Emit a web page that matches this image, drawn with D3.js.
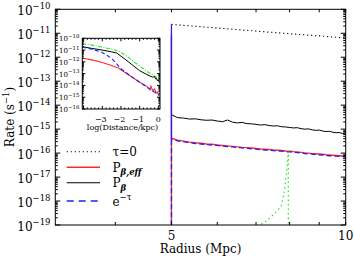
<!DOCTYPE html>
<html>
<head>
<meta charset="utf-8">
<script src="https://cdn.jsdelivr.net/npm/d3@7"></script>
<style>
body { margin: 0; background: #fff; }
text { font-family: "DejaVu Serif", serif; fill: #000; }
</style>
</head>
<body>
<svg id="chart" width="354" height="256"></svg>
<script>
// main panel data: log10 of rate (s^-1) against radius (Mpc)
var radius = [5.000, 5.125, 5.250, 5.375, 5.500, 5.625, 5.750, 5.875, 6.000, 6.125,
    6.250, 6.375, 6.500, 6.625, 6.750, 6.875, 7.000, 7.125, 7.250, 7.375,
    7.500, 7.625, 7.750, 7.875, 8.000, 8.125, 8.250, 8.375, 8.500, 8.625,
    8.750, 8.875, 9.000, 9.125, 9.250, 9.375, 9.500, 9.625, 9.750, 9.875, 10.000];
var pBetaLog = [-14.40, -14.52, -14.54, -14.58, -14.57, -14.61, -14.63, -14.62, -14.66, -14.69,
    -14.62, -14.71, -14.74, -14.72, -14.77, -14.78, -14.80, -14.83, -14.81, -14.85,
    -14.87, -14.86, -14.90, -14.91, -14.93, -14.95, -14.94, -14.98, -15.00, -14.99,
    -15.03, -15.05, -15.04, -15.08, -15.10, -15.09, -15.13, -15.15, -15.14, -15.18, -15.20];
var pEffLog = [-15.38, -15.46, -15.50, -15.54, -15.57, -15.59, -15.62, -15.63, -15.66, -15.68,
    -15.70, -15.72, -15.74, -15.76, -15.77, -15.79, -15.81, -15.83, -15.84, -15.85,
    -15.87, -15.88, -15.89, -15.91, -15.92, -15.94, -15.95, -15.97, -15.99, -16.00,
    -16.02, -16.03, -16.04, -16.05, -16.07, -16.08, -16.09, -16.10, -16.11, -16.12, -16.13];
var expTauLog = [-15.42, -15.49, -15.53, -15.56, -15.60, -15.62, -15.64, -15.67, -15.68, -15.71,
    -15.73, -15.74, -15.77, -15.78, -15.80, -15.82, -15.83, -15.86, -15.87, -15.88,
    -15.90, -15.91, -15.92, -15.94, -15.95, -15.97, -15.98, -15.99, -16.02, -16.03,
    -16.04, -16.06, -16.07, -16.08, -16.10, -16.11, -16.12, -16.13, -16.14, -16.15, -16.16];
// first bin at 5 Mpc rises from zero to a peak
var peakLog = { pEff: -11.1, pBeta: -11.0, expTau: -10.62 };
var tau0Radius = [5, 6, 7, 8, 9, 10];
var tau0Log = [-10.63, -10.78, -10.91, -11.02, -11.11, -11.20];
var greenRadius = [7.05, 7.11, 7.29, 7.49, 7.64, 7.75, 7.85, 7.90, 7.93, 7.96, 7.96];
var greenLog = [-19.3, -19.0, -18.83, -18.58, -18.38, -18.17, -17.46, -16.83, -16.42, -15.93, -20];

// inset: log10 rate against log10(distance/kpc)
var insGreenX = [-4.07, -3.5, -3.0, -2.5, -2.1, -1.7, -1.34, -1.0, -0.62, -0.3, 0.0, 0.07];
var insGreenY = [-10.45, -10.6, -10.75, -10.92, -11.1, -11.5, -11.95, -12.35, -12.8, -13.1, -13.4, -13.5];
var insBlackX = [-4.07, -3.5, -3.0, -2.5, -2.23, -1.8, -1.4, -1.0, -0.7, -0.45, -0.3, -0.2, -0.15, -0.1, -0.05, 0.0, 0.05];
var insBlackY = [-10.72, -10.87, -11.0, -11.15, -11.25, -11.75, -12.25, -12.75, -13.0, -13.2, -13.3, -13.25, -13.45, -13.38, -13.6, -13.52, -13.68];
var insRedX = [-4.07, -3.5, -3.0, -2.5, -2.14, -1.5, -1.0, -0.6, -0.45, -0.4, -0.3, -0.2, -0.12, -0.05, 0.0, 0.05];
var insRedY = [-11.67, -11.85, -12.05, -12.3, -12.52, -13.2, -13.73, -14.1, -14.35, -14.05, -14.45, -14.3, -14.65, -14.55, -14.8, -14.85];
var insBlueX = [-4.07, -3.5, -3.0, -2.5, -2.1, -1.95, -1.5, -1.0, -0.5, 0.0, 0.05];
var insBlueY = [-10.75, -10.95, -11.2, -11.7, -12.4, -12.65, -13.18, -13.72, -14.26, -14.78, -14.83];

// ticks and labels
var yTickExp = [-10, -11, -12, -13, -14, -15, -16, -17, -18, -19];
var xTickValues = [4, 5, 6, 7, 8, 9, 10];
var xTickLabels = [5, 10];
var insXTicks = [-4, -3, -2, -1, 0];
var insXLabels = [-3, -2, -1, 0];
var insYTickExp = [-10, -11, -12, -13, -14, -15, -16];
var legendNames = ['τ=0', 'P', 'P', 'e'];
var legendSub = ['', 'β,eff', 'β', ''];
var legendSup = ['', '', '', '−τ'];

var red = '#ff2b2b', blue = '#2020ff', green = '#33e633';

var svg = d3.select('#chart');
var mLeft = 55.3, mRight = 345.7, mTop = 9.3, mBottom = 225;

var x = d3.scaleLog().domain([3.15, 10]).range([mLeft, mRight]);
var y = d3.scaleLog().domain([1e-19, 1e-10]).range([mBottom, mTop]);
function p10(v) { return Math.pow(10, v); }

var defs = svg.append('defs');
defs.append('clipPath').attr('id', 'clipMain')
    .append('rect').attr('x', mLeft).attr('y', mTop).attr('width', mRight - mLeft).attr('height', mBottom - mTop);

var line = d3.line().x(function (d) { return x(d[0]); }).y(function (d) { return y(p10(d[1])); });

function withSpike(peak, vals) {
    return [[5, -20], [5, peak]].concat(radius.map(function (r, i) { return [r, vals[i]]; }));
}

var plot = svg.append('g').attr('clip-path', 'url(#clipMain)');
plot.append('path').attr('d', line(tau0Radius.map(function (r, i) { return [r, tau0Log[i]]; })))
    .attr('fill', 'none').attr('stroke', '#000').attr('stroke-width', 1.1).attr('stroke-dasharray', '1.2,2.8');
plot.append('path').attr('d', line(withSpike(peakLog.pBeta, pBetaLog)))
    .attr('fill', 'none').attr('stroke', '#000').attr('stroke-width', 1);
plot.append('path').attr('d', line(withSpike(peakLog.pEff, pEffLog)))
    .attr('fill', 'none').attr('stroke', red).attr('stroke-width', 1.4);
plot.append('path').attr('d', line(withSpike(peakLog.expTau, expTauLog)))
    .attr('fill', 'none').attr('stroke', blue).attr('stroke-width', 1.3).attr('stroke-dasharray', '5,3');
plot.append('path').attr('d', line(greenRadius.map(function (r, i) { return [r, greenLog[i]]; })))
    .attr('fill', 'none').attr('stroke', green).attr('stroke-width', 1.3).attr('stroke-dasharray', '1.5,3');

// frame and ticks
var axes = svg.append('g').attr('stroke', '#000').attr('stroke-width', 1);
axes.append('rect').attr('x', mLeft).attr('y', mTop).attr('width', mRight - mLeft).attr('height', mBottom - mTop).attr('fill', 'none');

yTickExp.forEach(function (e) {
    var yy = y(p10(e));
    axes.append('line').attr('x1', mLeft).attr('x2', mLeft + 5).attr('y1', yy).attr('y2', yy);
    axes.append('line').attr('x1', mRight).attr('x2', mRight - 5).attr('y1', yy).attr('y2', yy);
    if (e === -10) return;
    for (var k = 2; k <= 9; k++) {
        var ym = y(k * p10(e));
        axes.append('line').attr('x1', mLeft).attr('x2', mLeft + 2.5).attr('y1', ym).attr('y2', ym);
        axes.append('line').attr('x1', mRight).attr('x2', mRight - 2.5).attr('y1', ym).attr('y2', ym);
    }
});
xTickValues.forEach(function (v) {
    var xx = x(v);
    axes.append('line').attr('x1', xx).attr('x2', xx).attr('y1', mBottom).attr('y2', mBottom - 3);
    axes.append('line').attr('x1', xx).attr('x2', xx).attr('y1', mTop).attr('y2', mTop + 3);
});

// y tick labels
yTickExp.forEach(function (e) {
    var t = svg.append('text').attr('x', 50.5).attr('y', y(p10(e)) + 5.5).attr('text-anchor', 'end');
    t.append('tspan').text('10').style('font-size', '12px');
    t.append('tspan').text('−' + Math.abs(e)).attr('dy', -5.5).style('font-size', '8.5px');
});
xTickLabels.forEach(function (v) {
    svg.append('text').attr('x', x(v)).attr('y', 239.5).attr('text-anchor', 'middle')
        .style('font-size', '12px').text(v);
});
svg.append('text').attr('x', (mLeft + mRight) / 2).attr('y', 252.5).attr('text-anchor', 'middle')
    .style('font-size', '12px').text('Radius (Mpc)');
var yt = svg.append('text').attr('transform', 'translate(14,117) rotate(-90)').attr('text-anchor', 'middle')
    .style('font-size', '12px');
yt.append('tspan').text('Rate (s');
yt.append('tspan').text('−1').attr('dy', -5).style('font-size', '8.5px');
yt.append('tspan').text(')').attr('dy', 5);

// legend
var legY = [151.7, 167.3, 182.7, 201];
var legStyle = [
    { c: '#000', w: 1.1, dash: '1.2,2.8' },
    { c: red, w: 1.4, dash: null },
    { c: '#000', w: 1.1, dash: null },
    { c: blue, w: 1.3, dash: '7,5' }
];
legendNames.forEach(function (name, i) {
    svg.append('line').attr('x1', 66.7).attr('x2', 100).attr('y1', legY[i]).attr('y2', legY[i])
        .attr('stroke', legStyle[i].c).attr('stroke-width', legStyle[i].w)
        .attr('stroke-dasharray', legStyle[i].dash);
    var t = svg.append('text').attr('x', 112.5).attr('y', legY[i] + 4.5).style('font-size', '12px');
    t.append('tspan').text(name);
    if (legendSub[i]) t.append('tspan').text(legendSub[i]).attr('dy', 3.5)
        .style('font-size', '8.5px').style('font-style', 'italic').style('font-weight', 'bold');
    if (legendSup[i]) t.append('tspan').text(legendSup[i]).attr('dy', -6).style('font-size', '8.5px');
});

// inset
var iL = 82.3, iR = 160, iT = 38.3, iB = 109;
var ix = d3.scaleLinear().domain([-4.07, 0.09]).range([iL, iR]);
var iy = d3.scaleLog().domain([1e-16, 1e-10]).range([iB, iT]);
defs.append('clipPath').attr('id', 'clipInset')
    .append('rect').attr('x', iL).attr('y', iT).attr('width', iR - iL).attr('height', iB - iT);
var inset = svg.append('g');
inset.append('rect').attr('x', iL).attr('y', iT).attr('width', iR - iL).attr('height', iB - iT).attr('fill', '#fff');
var iline = d3.line().x(function (d) { return ix(d[0]); }).y(function (d) { return iy(p10(d[1])); });
function pairs(xs, ys) { return xs.map(function (v, i) { return [v, ys[i]]; }); }
var ip = inset.append('g').attr('clip-path', 'url(#clipInset)');
ip.append('path').attr('d', iline(pairs(insGreenX, insGreenY))).attr('fill', 'none')
    .attr('stroke', green).attr('stroke-width', 1.1).attr('stroke-dasharray', '4,1.5,1,1.5');
ip.append('path').attr('d', iline(pairs(insBlackX, insBlackY))).attr('fill', 'none')
    .attr('stroke', '#000').attr('stroke-width', 1);
ip.append('path').attr('d', iline(pairs(insRedX, insRedY))).attr('fill', 'none')
    .attr('stroke', red).attr('stroke-width', 1.1);
ip.append('path').attr('d', iline(pairs(insBlueX, insBlueY))).attr('fill', 'none')
    .attr('stroke', blue).attr('stroke-width', 1.1).attr('stroke-dasharray', '4,2.5');

var iaxes = inset.append('g').attr('stroke', '#000').attr('stroke-width', 1);
iaxes.append('rect').attr('x', iL).attr('y', iT).attr('width', iR - iL).attr('height', iB - iT).attr('fill', 'none');
insYTickExp.forEach(function (e) {
    var yy = iy(p10(e));
    iaxes.append('line').attr('x1', iL).attr('x2', iL + 3).attr('y1', yy).attr('y2', yy);
    iaxes.append('line').attr('x1', iR).attr('x2', iR - 3).attr('y1', yy).attr('y2', yy);
    if (e > -16) {
        for (var k = 2; k <= 9; k++) {
            var ym = iy(k * p10(e - 1));
            iaxes.append('line').attr('x1', iL).attr('x2', iL + 1.5).attr('y1', ym).attr('y2', ym);
            iaxes.append('line').attr('x1', iR).attr('x2', iR - 1.5).attr('y1', ym).attr('y2', ym);
        }
    }
    var t = svg.append('text').attr('x', 79.5).attr('y', yy + 3).attr('text-anchor', 'end');
    t.append('tspan').text('10').style('font-size', '7px');
    t.append('tspan').text('−' + Math.abs(e)).attr('dy', -3.5).style('font-size', '5.5px');
});
insXTicks.forEach(function (v) {
    var xx = ix(v);
    iaxes.append('line').attr('x1', xx).attr('x2', xx).attr('y1', iB).attr('y2', iB - 3);
    iaxes.append('line').attr('x1', xx).attr('x2', xx).attr('y1', iT).attr('y2', iT + 3);
    for (var k = 1; k <= 4; k++) {
        var xm = ix(v + k * 0.2);
        if (xm > iR) break;
        iaxes.append('line').attr('x1', xm).attr('x2', xm).attr('y1', iB).attr('y2', iB - 1.5);
        iaxes.append('line').attr('x1', xm).attr('x2', xm).attr('y1', iT).attr('y2', iT + 1.5);
    }
});
insXLabels.forEach(function (v) {
    svg.append('text').attr('x', ix(v) + (v < 0 ? -1.5 : 0)).attr('y', 121.5).attr('text-anchor', 'middle')
        .style('font-size', '8px').text(v < 0 ? '−' + Math.abs(v) : v);
});
svg.append('text').attr('x', 122.5).attr('y', 129.5).attr('text-anchor', 'middle')
    .style('font-size', '8px').text('log(Distance/kpc)');
</script>
</body>
</html>
